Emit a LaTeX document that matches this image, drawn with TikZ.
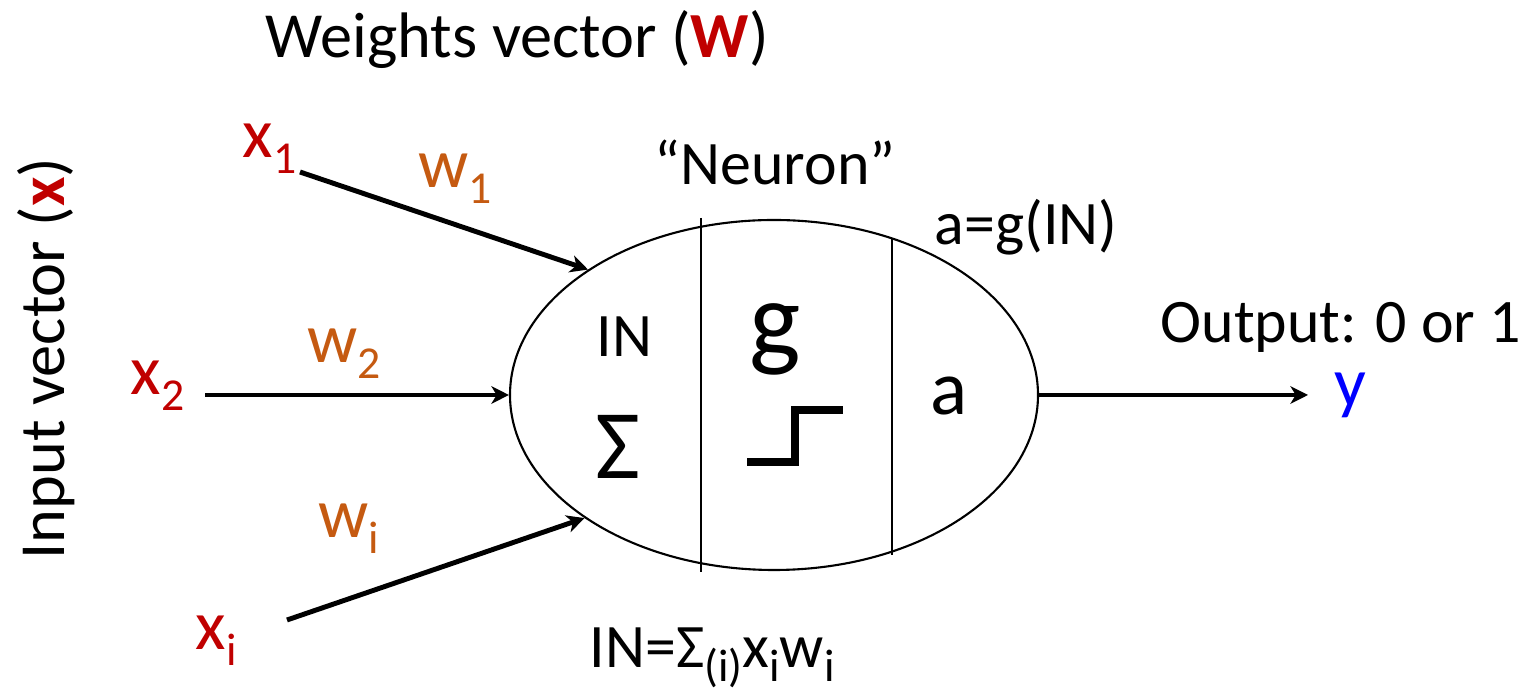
\documentclass[tikz,border=0pt]{standalone}
\usepackage{fontspec}
\setmainfont{Carlito}
\usepackage{xcolor}
\usetikzlibrary{arrows.meta,shapes.geometric}
\definecolor{xred}{HTML}{C00000}
\definecolor{wbrown}{HTML}{C55A11}
\definecolor{yblue}{HTML}{0000FF}
\newcommand{\vsub}[1]{\raisebox{-0.22em}{\fontsize{13}{15}\selectfont #1}}
\tikzset{
  inarr/.style   = {-{Stealth[length=5pt,width=5pt,inset=1.5pt]},line width=1.4pt},
  lbl/.style     = {font=\fontsize{17.6}{21}\selectfont,inner sep=0pt,anchor=base west},
  var/.style     = {font=\fontsize{20}{24}\selectfont,inner sep=0pt,anchor=base west},
  divline/.style = {line width=0.6pt}
}
\begin{document}
\begin{tikzpicture}
  \useasboundingbox (0,0) rectangle (15.3,-6.91);
  \node[lbl,font=\fontsize{18.3}{22}\selectfont] (weights) at (2.65,-0.58) {Weights vector (\textcolor{xred}{\textbf{W}})};
  \node[lbl,font=\fontsize{18.3}{22}\selectfont,rotate=90] (invec) at (0.65,-5.60) {Input vector (\textcolor{xred}{\textbf{x}})};
  % inputs and their weights
  \node[var,xred]   (x1) at (2.42,-1.58) {x\vsub{1}};
  \node[var,xred]   (x2) at (1.30,-3.95) {x\vsub{2}};
  \node[var,xred]   (xi) at (1.95,-6.50) {x\vsub{i}};
  \node[var,wbrown] (w1) at (4.18,-1.88) {w\vsub{1}};
  \node[var,wbrown] (w2) at (3.07,-3.63) {w\vsub{2}};
  \node[var,wbrown] (wi) at (3.18,-5.38) {w\vsub{i}};
  % the neuron body
  \node[ellipse,draw,line width=0.6pt,minimum width=5.28cm,minimum height=3.5cm,inner sep=0pt]
        (neuron) at (7.74,-3.95) {};
  \draw[divline] (7.01,-2.18) -- (7.01,-5.72);
  \draw[divline] (8.92,-2.38) -- (8.92,-5.55);
  \node[lbl] (in)    at (5.96,-3.57) {IN};
  \node[lbl,font=\fontsize{28}{32}\selectfont] (sigma) at (5.95,-4.79) {Σ};
  \node[lbl,font=\fontsize{31}{36}\selectfont,anchor=center] (g) at (7.75,-3.39) {g};
  \draw[line width=2pt] (7.47,-4.62) -- (7.95,-4.62) -- (7.95,-4.10) -- (8.43,-4.10);
  \node[lbl,font=\fontsize{22}{26}\selectfont] (act) at (9.30,-4.15) {a};
  \node[lbl] (neulbl) at (6.54,-1.85) {“Neuron”};
  \node[lbl] (gfun)   at (9.34,-2.45) {a=g(IN)};
  \node[lbl] (insum)  at (5.89,-6.68) {IN=Σ\vsub{(i)}x\vsub{i}w\vsub{i}};
  % output side
  \node[lbl] (outlbl) at (11.60,-3.43) {Output: 0 or 1};
  \node[var,yblue] (yout) at (13.34,-4.07) {y};
  \coordinate (t1) at (3.00,-1.72);
  \coordinate (t2) at (2.05,-3.95);
  \coordinate (ti) at (2.87,-6.20);
  \coordinate (yend) at (13.08,-3.95);
  \draw[inarr] (t1) -- (neuron.146);
  \draw[inarr] (t2) -- (neuron.west);
  \draw[inarr] (ti) -- (neuron.213.5);
  \draw[inarr] (neuron.east) -- (yend);
\end{tikzpicture}
\end{document}
